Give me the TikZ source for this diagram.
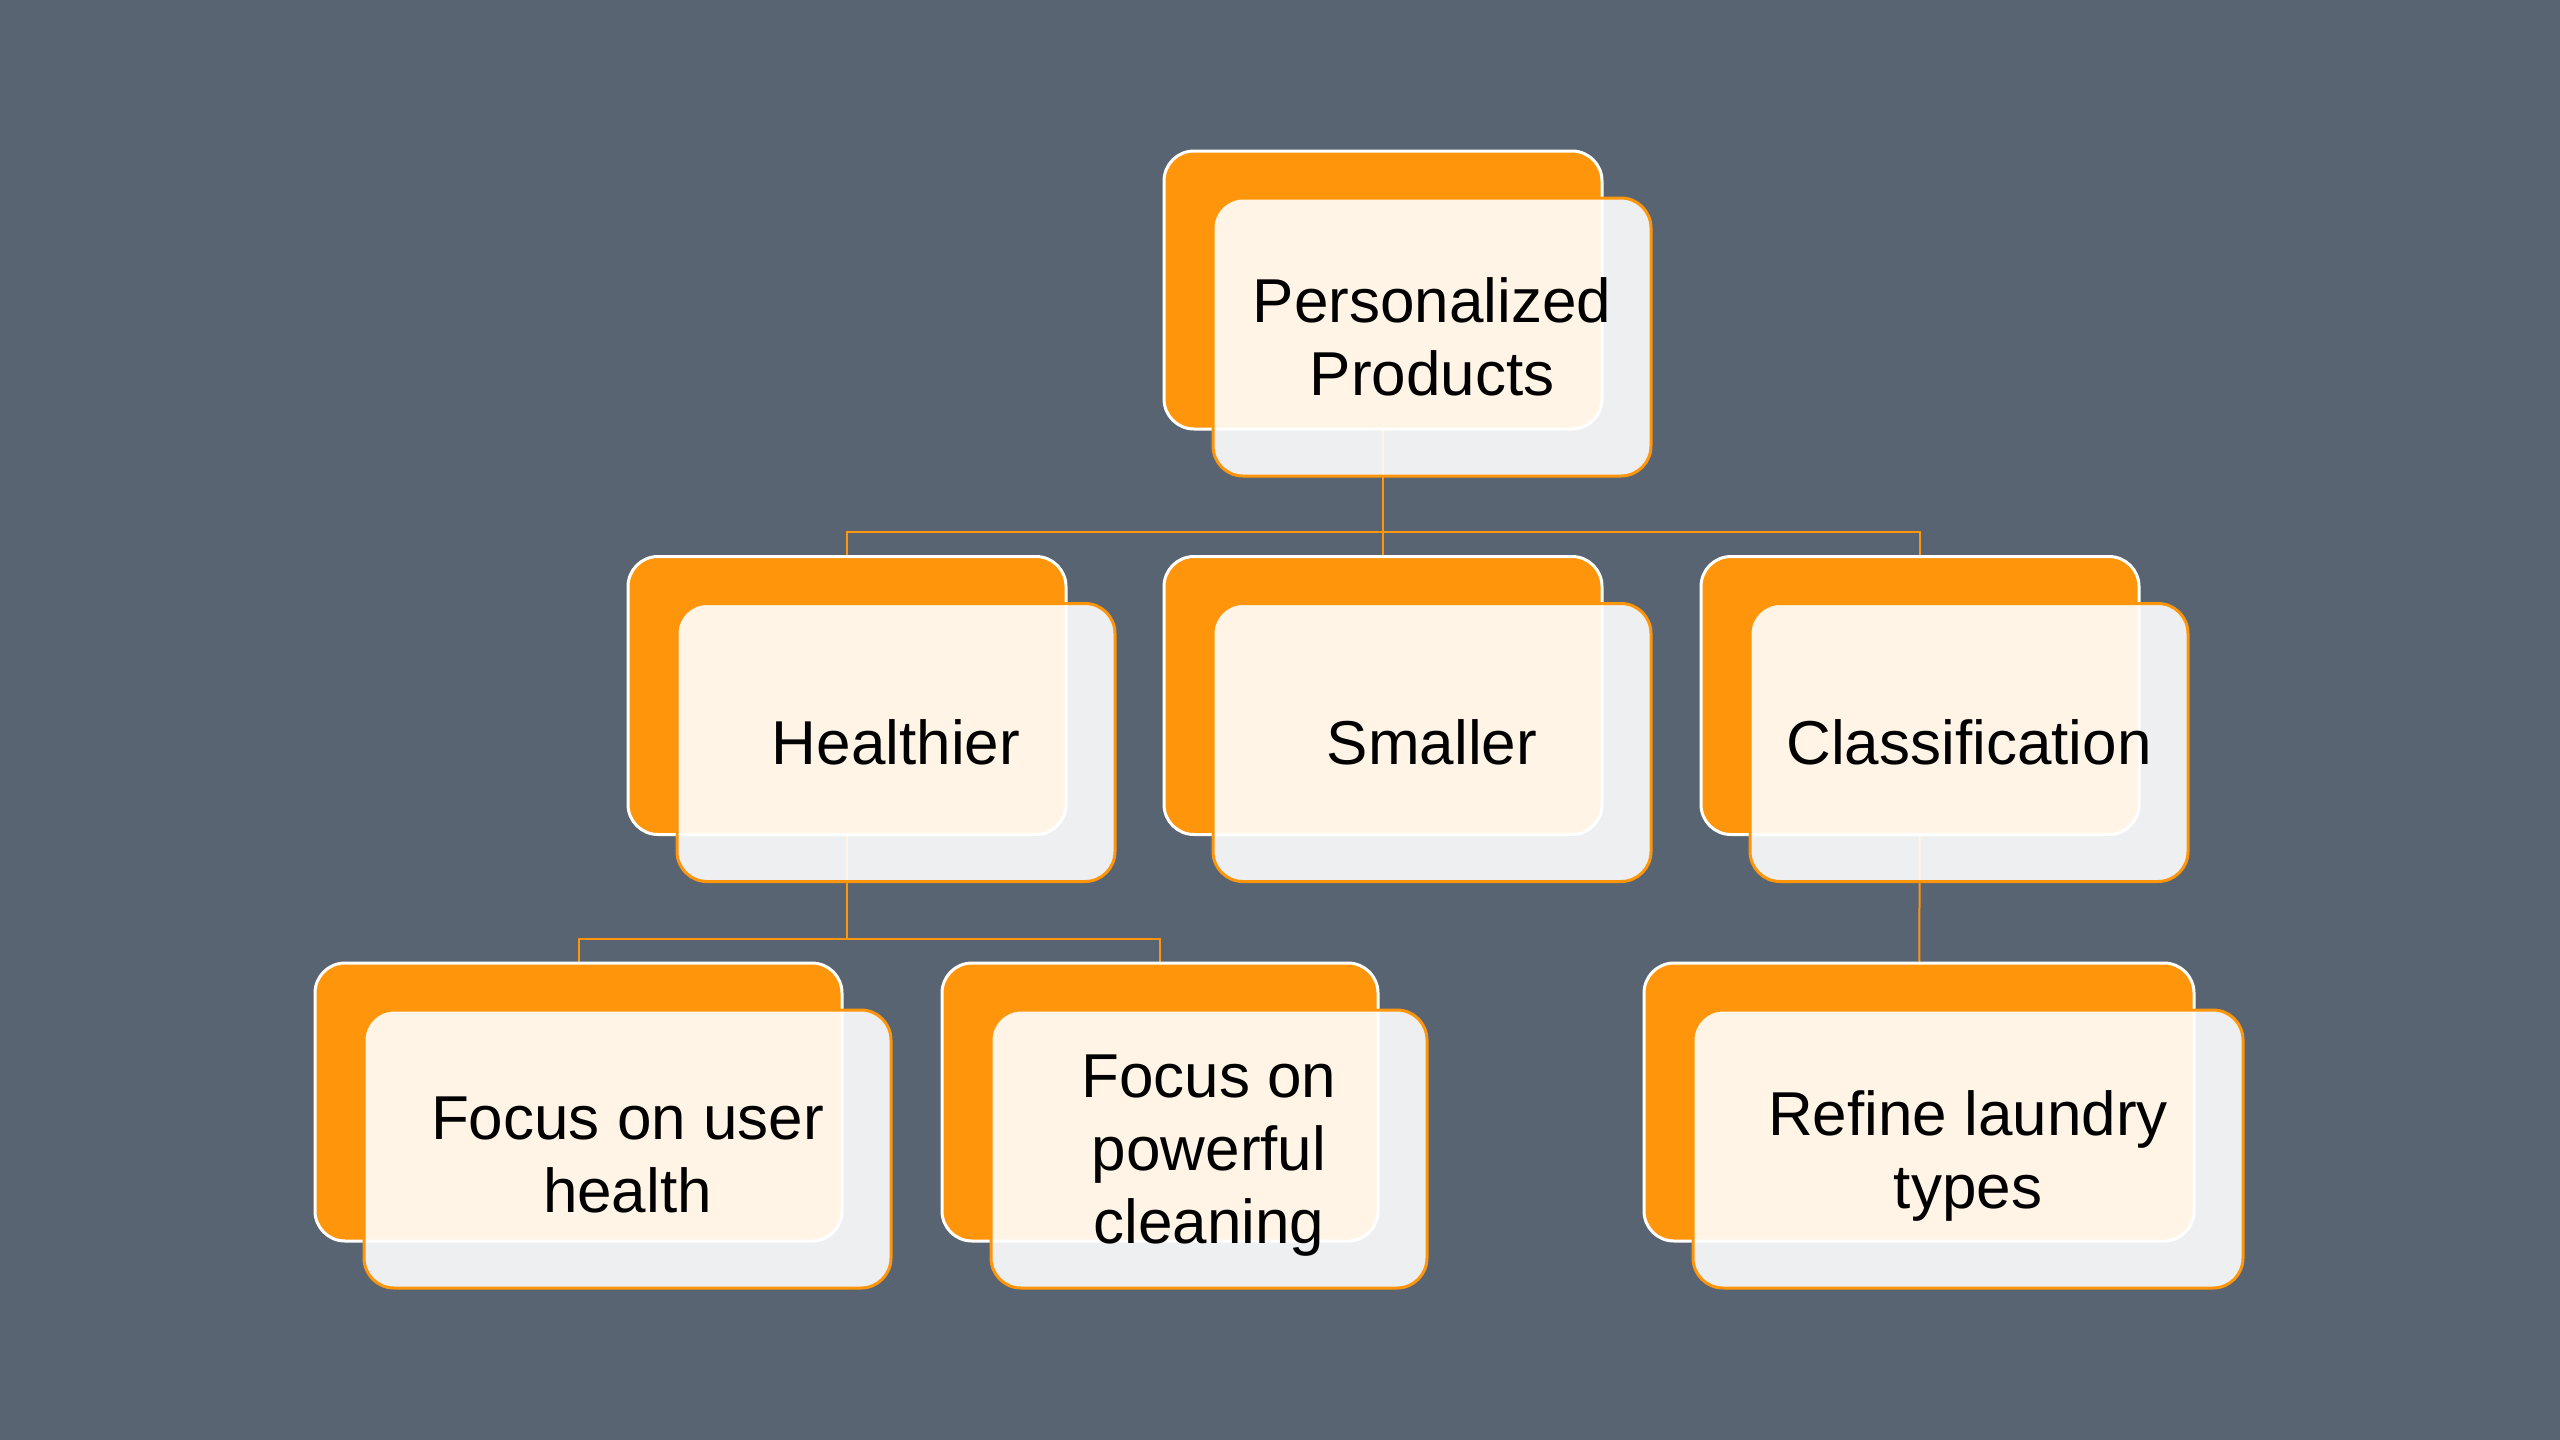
\documentclass[tikz,border=0pt]{standalone}
\usepackage{fontspec}
\setmainfont{Liberation Sans}
\definecolor{bgc}{HTML}{586472}
\definecolor{orng}{HTML}{FF950A}
\pgfdeclarelayer{bottom}
\pgfdeclarelayer{background}
\pgfsetlayers{bottom,background,main}
\tikzset{
  backbox/.style={rectangle, rounded corners=30pt, fill=orng, draw=white, line width=3pt, minimum height=278pt, inner sep=0pt},
  frontbox/.style={rectangle, rounded corners=30pt, fill=white, fill opacity=0.9, draw=orng, line width=3pt, minimum height=278pt, inner sep=0pt},
  lbl/.style={align=center, text=black, inner sep=0pt, font=\fontsize{62}{73}\selectfont},
  conn/.style={draw=orng, line width=2pt}
}
\newcommand\mkbox[6]{%
  \node[backbox, minimum width=#4] (#1b) at (#2,#3) {};
  \node[frontbox, minimum width=#4] (#1f) at (#2+49,#3+47) {};
  \node[lbl] (#1t) at (#2+49,#3+47+#6) {#5};
}
\begin{document}
\begin{tikzpicture}[x=1pt,y=-1pt]
\begin{pgfonlayer}{bottom}
\fill[bgc] (0,0) rectangle (2560,1440);
\end{pgfonlayer}
\useasboundingbox (0,0) rectangle (2560,1440);
\mkbox{p}{1383}{290}{438}{Personalized\\Products}{0}
\mkbox{h}{847}{695.5}{438}{Healthier}{0}
\mkbox{s}{1383}{695.5}{438}{Smaller}{0}
\mkbox{c}{1920}{695.5}{438}{Classification}{0}
\mkbox{u}{578.5}{1102}{527}{Focus on user\\health}{6}
\mkbox{w}{1160}{1102}{436}{Focus on\\powerful\\cleaning}{7}
\mkbox{r}{1919}{1102}{550}{Refine laundry\\types}{7}
\coordinate (j1) at (1383,532);
\coordinate (j2) at (847,939);
\begin{pgfonlayer}{background}
\draw[conn] (pb.center) -- (sb.center);
\draw[conn] (j1) -| (hb.center);
\draw[conn] (j1) -| (cb.center);
\draw[conn] (hb.center) -- (j2);
\draw[conn] (j2) -| (ub.center);
\draw[conn] (j2) -| (wb.center);
\draw[conn] (cb.center) -- (rb.center);
\end{pgfonlayer}
\end{tikzpicture}
\end{document}
